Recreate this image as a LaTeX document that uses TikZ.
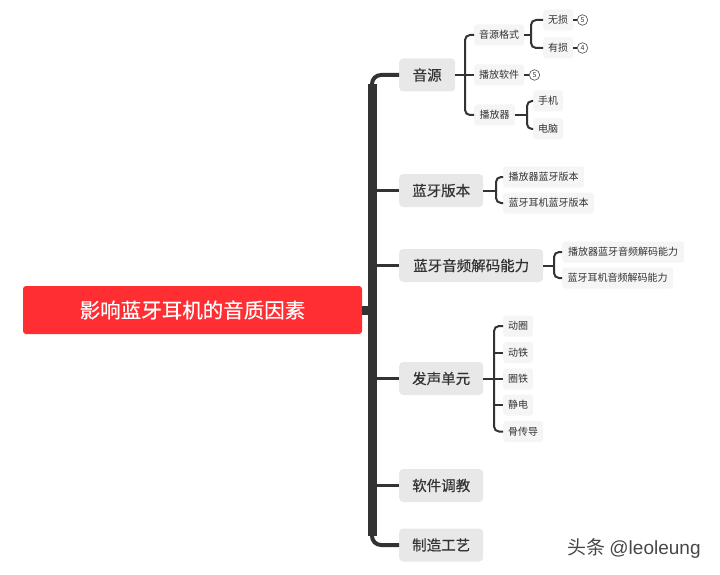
\documentclass[tikz,border=0pt]{standalone}
\usepackage{fontspec}
\setmainfont{Noto Sans CJK SC}
\newfontfamily\medfont[FakeBold=0.4]{Noto Sans CJK SC}
\newfontfamily\wmfont{Liberation Sans}
\definecolor{rootred}{HTML}{FF2E32}
\definecolor{lineC}{HTML}{333333}
\definecolor{txtC}{HTML}{333333}
\definecolor{l1fill}{HTML}{E8E8E8}
\definecolor{l2fill}{HTML}{F5F5F5}
\tikzset{
  rootbox/.style={fill=rootred, rounded corners=3, text=white, font=\medfont\fontsize{20.5}{20.5}\selectfont, minimum width=339, minimum height=48, inner sep=0},
  lonebox/.style={fill=l1fill, rounded corners=4, text=txtC, font=\medfont\fontsize{14.5}{14.5}\selectfont, minimum height=33, inner sep=0, anchor=west},
  ltwobox/.style={fill=l2fill, rounded corners=3, text=txtC, font=\fontsize{10}{10}\selectfont, minimum height=21, inner sep=0, anchor=west},
  numcirc/.style={circle, draw=lineC!80, line width=0.7, minimum size=10.5, inner sep=0, text=txtC, font=\fontsize{7}{7}\selectfont},
  conn/.style={draw=lineC, line width=2, rounded corners=5},
  branch/.style={draw=lineC, line width=3.5},
}
\begin{document}
\begin{tikzpicture}[x=1pt,y=-1pt]
\useasboundingbox (0,0) rectangle (720,575);
% root
\node[rootbox] (root) at (192.5,310) {影响蓝牙耳机的音质因素};
% level 1
\node[lonebox, minimum width=56] (yy) at (399,75) {音源};
\node[lonebox, minimum width=84] (lybb) at (399,190.5) {蓝牙版本};
\node[lonebox, minimum width=144] (jm) at (399,265.5) {蓝牙音频解码能力};
\node[lonebox, minimum width=84] (fs) at (399,378.5) {发声单元};
\node[lonebox, minimum width=84] (rj) at (399,485.5) {软件调教};
\node[lonebox, minimum width=84] (zz) at (399,545) {制造工艺};
% trunk
\draw[draw=lineC, line width=4, rounded corners=9] (yy.west) -- (372,75) -- (372,545) -- (zz.west);
\draw[draw=lineC, line width=9] (372,84) -- (372,536);
\draw[draw=lineC, line width=9] (root.east) -- (372,310);
\draw[branch] (372,190.5) -- (lybb.west);
\draw[branch] (372,265.5) -- (jm.west);
\draw[branch] (372,378.5) -- (fs.west);
\draw[branch] (372,485.5) -- (rj.west);
% 音源 children
\node[ltwobox, minimum width=50] (gs) at (474,35) {音源格式};
\node[ltwobox, minimum width=50] (rjs) at (474,75) {播放软件};
\node[ltwobox, minimum width=41] (bfq) at (474,115) {播放器};
\draw[conn] (gs.west) -- ++(-9,0) |- (bfq.west);
\draw[conn] (yy.east) -- (rjs.west);
% 音源格式 children
\node[ltwobox, minimum width=30] (ws) at (543,20) {无损};
\node[ltwobox, minimum width=30] (ys) at (543,48) {有损};
\draw[conn] (ws.west) -- ++(-12,0) |- (ys.west);
\draw[conn] (gs.east) -- ++(7,0);
\node[numcirc] (c1) at (582.5,20) {5};
\node[numcirc] (c2) at (582.5,48) {4};
\node[numcirc] (c3) at (534.5,75) {5};
\draw[draw=lineC, line width=1.5] (ws.east) -- (c1.west);
\draw[draw=lineC, line width=1.5] (ys.east) -- (c2.west);
\draw[draw=lineC, line width=1.5] (rjs.east) -- (c3.west);
% 播放器 children
\node[ltwobox, minimum width=30] (sj) at (533,101) {手机};
\node[ltwobox, minimum width=30] (dn) at (533,129) {电脑};
\draw[conn] (sj.west) -- ++(-6,0) |- (dn.west);
\draw[conn] (bfq.east) -- ++(12,0);
% 蓝牙版本 children
\node[ltwobox, minimum width=81] (b1) at (503,177) {播放器蓝牙版本};
\node[ltwobox, minimum width=91] (b2) at (503,203) {蓝牙耳机蓝牙版本};
\draw[conn] (b1.west) -- ++(-7,0) |- (b2.west);
\draw[conn] (lybb.east) -- ++(13,0);
% 解码 children
\node[ltwobox, minimum width=122] (d1) at (562,252) {播放器蓝牙音频解码能力};
\node[ltwobox, minimum width=111] (d2) at (562,278) {蓝牙耳机音频解码能力};
\draw[conn] (d1.west) -- ++(-8,0) |- (d2.west);
\draw[conn] (jm.east) -- ++(11,0);
% 发声单元 children
\node[ltwobox, minimum width=30] (u1) at (503,326) {动圈};
\node[ltwobox, minimum width=30] (u2) at (503,352.5) {动铁};
\node[ltwobox, minimum width=30] (u3) at (503,379) {圈铁};
\node[ltwobox, minimum width=30] (u4) at (503,405) {静电};
\node[ltwobox, minimum width=40] (u5) at (503,431.5) {骨传导};
\draw[conn] (u1.west) -- ++(-9,0) |- (u5.west);
\draw[conn] (fs.east) -- (494,378.5);
\draw[conn] (494,352.5) -- (u2.west);
\draw[conn] (494,379) -- (u3.west);
\draw[conn] (494,405) -- (u4.west);
% watermark
\node[text=txtC!90, anchor=west, inner sep=0] (wm) at (567,548) {\fontsize{19}{19}\selectfont 头条 \wmfont @leoleung};
\end{tikzpicture}
\end{document}
